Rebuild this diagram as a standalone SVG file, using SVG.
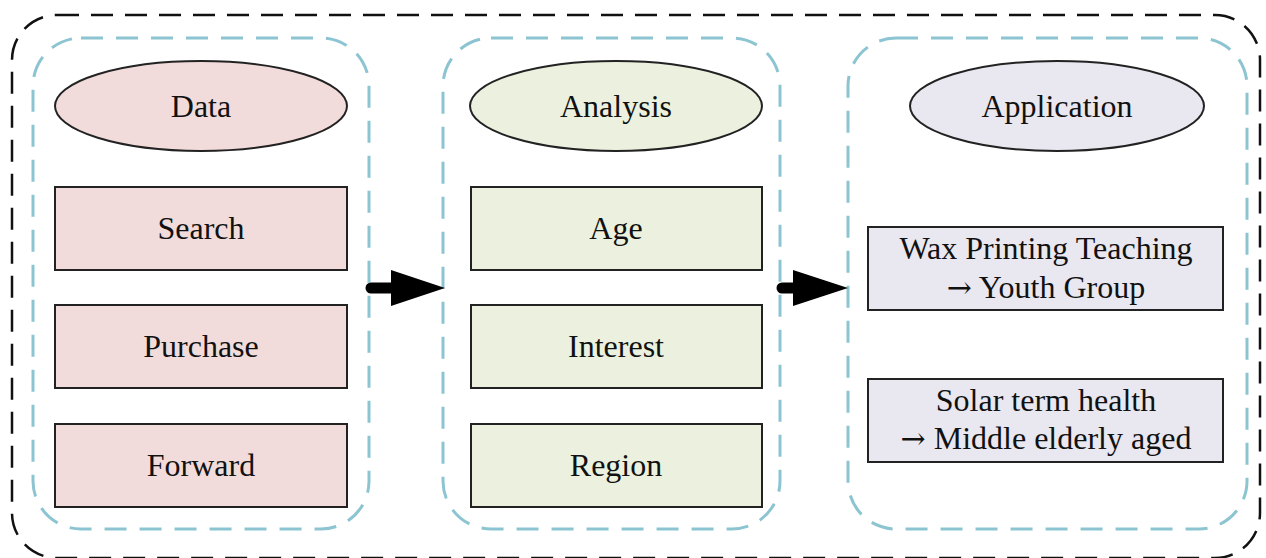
<svg xmlns="http://www.w3.org/2000/svg" width="1266" height="558" viewBox="0 0 1266 558">
<defs>
<style>
.outer{fill:none;stroke:#111;stroke-width:2.5;stroke-dasharray:22 12}
.panel{fill:none;stroke:#8cc5d1;stroke-width:3;stroke-dasharray:22 13}
.shape{stroke:#222;stroke-width:2}
.pink{fill:#f2dcdb}
.green{fill:#ebf1de}
.lav{fill:#e9e7ef}
text{font-family:"Liberation Serif","Times New Roman",serif;font-size:32px;fill:#111;text-anchor:middle}
.arr{font-family:"DejaVu Serif",serif;font-size:30px}
.conn{stroke:#000;stroke-width:11;stroke-linecap:round;fill:none}
</style>
</defs>
<rect width="1266" height="558" fill="#fff"/>
<rect class="outer" x="12" y="15" width="1248" height="543" rx="45" ry="45"/>
<g id="panels">
<rect class="panel" x="33" y="38" width="336" height="491" rx="48" ry="48"/>
<rect class="panel" x="443" y="38" width="337" height="491" rx="48" ry="48"/>
<rect class="panel" x="848" y="38" width="399" height="491" rx="48" ry="48"/>
</g>
<g id="data">
<ellipse class="shape pink" cx="201" cy="106" rx="146" ry="45"/>
<text x="201" y="117">Data</text>
</g>
<g id="search">
<rect class="shape pink" x="55" y="187" width="292" height="83"/>
<text x="201" y="239">Search</text>
</g>
<g id="purchase">
<rect class="shape pink" x="55" y="305" width="292" height="83"/>
<text x="201" y="357">Purchase</text>
</g>
<g id="forward">
<rect class="shape pink" x="55" y="424" width="292" height="83"/>
<text x="201" y="476">Forward</text>
</g>
<g id="analysis">
<ellipse class="shape green" cx="616" cy="106" rx="146" ry="45"/>
<text x="616" y="117">Analysis</text>
</g>
<g id="age">
<rect class="shape green" x="471" y="187" width="291" height="83"/>
<text x="616" y="239">Age</text>
</g>
<g id="interest">
<rect class="shape green" x="471" y="305" width="291" height="83"/>
<text x="616" y="357">Interest</text>
</g>
<g id="region">
<rect class="shape green" x="471" y="424" width="291" height="83"/>
<text x="616" y="476">Region</text>
</g>
<g id="application">
<ellipse class="shape lav" cx="1057" cy="106" rx="147" ry="45"/>
<text x="1057" y="117">Application</text>
</g>
<g id="wax">
<rect class="shape lav" x="868" y="227" width="355" height="83"/>
<text x="1046" y="259">Wax Printing Teaching</text>
<text x="1046" y="298"><tspan class="arr">→</tspan> Youth Group</text>
</g>
<g id="solar">
<rect class="shape lav" x="868" y="379" width="355" height="83"/>
<text x="1046" y="411">Solar term health</text>
<text x="1046" y="449"><tspan class="arr">→</tspan> Middle elderly aged</text>
</g>
<g id="connectors">
<line class="conn" x1="371" y1="288" x2="395" y2="288"/>
<polygon points="391,270 445,288 391,306" fill="#000"/>
<line class="conn" x1="782" y1="288" x2="797" y2="288"/>
<polygon points="793,270 848,288 793,306" fill="#000"/>
</g>
</svg>
